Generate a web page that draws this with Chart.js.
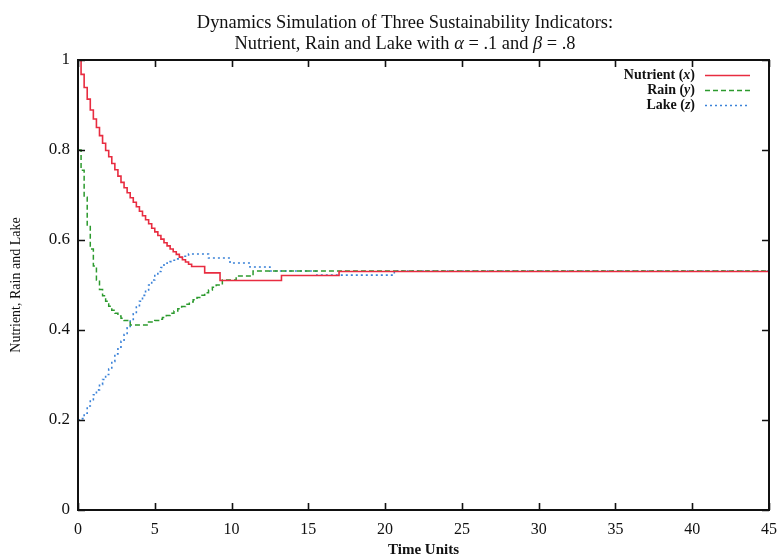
<!DOCTYPE html>
<html><head><meta charset="utf-8">
<script src="https://cdn.jsdelivr.net/npm/chart.js@4.4.0/dist/chart.umd.min.js"></script>
<style>html,body{margin:0;padding:0;background:#fff}</style>
</head><body>
<canvas id="c" width="778" height="556"></canvas>
<script>
const SERIF = '"Liberation Serif", "DejaVu Serif", serif';
const titleLine1 = 'Dynamics Simulation of Three Sustainability Indicators:';
const titleLine2 = [['Nutrient, Rain and Lake with ', false], ['\u03B1', true], [' = .1 and ', false], ['\u03B2', true], [' = .8', false]];
const xTitle = 'Time Units';
const yTitle = 'Nutrient, Rain and Lake';
const seriesLabels = ['Nutrient (x)', 'Rain (y)', 'Lake (z)'];

const nutrientT = [0,0.2,0.4,0.6,0.8,1.0,1.2,1.4,1.6,1.8,2.0,2.2,2.4,2.6,2.8,3.0,3.2,3.4,3.6,3.8,4.0,4.2,4.4,4.6,4.8,5.0,5.2,5.4,5.6,5.8,6.0,6.2,6.4,6.6,6.8,7.0,7.2,7.4,8.25,9.25,13.25,17,45];
const nutrientV = [1.000,0.968,0.939,0.913,0.889,0.869,0.850,0.832,0.815,0.799,0.785,0.770,0.756,0.742,0.728,0.716,0.705,0.694,0.684,0.674,0.664,0.654,0.645,0.636,0.626,0.618,0.610,0.602,0.594,0.587,0.580,0.574,0.568,0.562,0.556,0.551,0.546,0.541,0.527,0.510,0.521,0.530,0.530];

const rainT = [0,0.2,0.4,0.6,0.8,1.0,1.2,1.4,1.6,1.8,2.0,2.2,2.4,2.6,2.8,3.0,3.4,4.5,5,5.25,5.5,5.75,6,6.25,6.5,6.75,7,7.25,7.5,7.75,8,8.25,8.5,8.75,9,9.4,10.3,11.4,45];
const rainV = [0.800,0.755,0.695,0.630,0.580,0.542,0.511,0.490,0.476,0.464,0.453,0.444,0.437,0.431,0.426,0.421,0.411,0.418,0.421,0.424,0.428,0.432,0.437,0.442,0.447,0.452,0.457,0.462,0.467,0.472,0.477,0.483,0.489,0.495,0.500,0.511,0.520,0.531,0.531];

const lakeT = [0,0.2,0.4,0.6,0.8,1.0,1.2,1.4,1.6,1.8,2.0,2.2,2.4,2.6,2.8,3.0,3.2,3.4,3.6,3.8,4.0,4.2,4.4,4.6,4.8,5.0,5.2,5.4,5.6,5.8,6.0,6.2,6.4,6.6,6.8,7.0,7.2,8.5,9.9,11.2,12.5,15.5,20.6,45];
const lakeV = [0.200,0.203,0.215,0.231,0.245,0.256,0.267,0.279,0.290,0.301,0.313,0.330,0.347,0.362,0.375,0.390,0.405,0.420,0.436,0.451,0.464,0.477,0.489,0.500,0.511,0.521,0.530,0.539,0.545,0.549,0.552,0.555,0.558,0.561,0.564,0.567,0.569,0.560,0.549,0.540,0.531,0.522,0.531,0.531];

const xTicksStep = 5;
const yTicksStep = 0.2;

function pts(T, V) { return T.map((t, i) => ({x: t, y: V[i]})); }

const titlePlugin = {
  id: 'customTitle',
  afterDraw(chart) {
    const ctx = chart.ctx;
    ctx.save();
    ctx.fillStyle = '#111';
    ctx.textBaseline = 'alphabetic';
    const cx = 405;
    const F = '18.4px ' + SERIF;
    ctx.font = F;
    ctx.textAlign = 'center';
    ctx.fillText(titleLine1, cx, 28);
    ctx.textAlign = 'left';
    let total = 0;
    const widths = titleLine2.map(([s, it]) => { ctx.font = (it ? 'italic ' : '') + F; const w = ctx.measureText(s).width; total += w; return w; });
    let x = cx - total / 2;
    titleLine2.forEach(([s, it], i) => { ctx.font = (it ? 'italic ' : '') + F; ctx.fillText(s, x, 49); x += widths[i]; });
    ctx.restore();
  }
};

const framePlugin = {
  id: 'frame',
  afterDraw(chart) {
    const {ctx, chartArea: a, scales} = chart;
    ctx.save();
    ctx.strokeStyle = '#111';
    ctx.lineWidth = 2;
    ctx.strokeRect(a.left, a.top, a.right - a.left, a.bottom - a.top);
    ctx.lineWidth = 1.6;
    const L = 7;
    scales.x.ticks.forEach(t => {
      const px = Math.round(scales.x.getPixelForValue(t.value)) + 0.5;
      ctx.beginPath();
      ctx.moveTo(px, a.bottom); ctx.lineTo(px, a.bottom - L);
      ctx.moveTo(px, a.top); ctx.lineTo(px, a.top + L);
      ctx.stroke();
    });
    scales.y.ticks.forEach(t => {
      const py = Math.round(scales.y.getPixelForValue(t.value)) + 0.5;
      ctx.beginPath();
      ctx.moveTo(a.left, py); ctx.lineTo(a.left + L, py);
      ctx.moveTo(a.right, py); ctx.lineTo(a.right - L, py);
      ctx.stroke();
    });
    ctx.restore();
  }
};

const legendPlugin = {
  id: 'customLegend',
  afterDraw(chart) {
    const ctx = chart.ctx;
    ctx.save();
    ctx.textBaseline = 'middle';
    ctx.fillStyle = '#111';
    const textRight = 695, lx1 = 705, lx2 = 750, y0 = 75, dy = 15;
    chart.data.datasets.forEach((ds, i) => {
      const y = y0 + i * dy;
      const m = ds.label.match(/^(.*\()(.)(\))$/);
      const parts = m ? [[m[1], false], [m[2], true], [m[3], false]] : [[ds.label, false]];
      let total = 0;
      const ws = parts.map(([s, it]) => { ctx.font = 'bold ' + (it ? 'italic ' : '') + '14px ' + SERIF; const w = ctx.measureText(s).width; total += w; return w; });
      let x = textRight - total;
      ctx.textAlign = 'left';
      parts.forEach(([s, it], k) => { ctx.font = 'bold ' + (it ? 'italic ' : '') + '14px ' + SERIF; ctx.fillText(s, x, y); x += ws[k]; });
      ctx.beginPath();
      ctx.strokeStyle = ds.borderColor;
      ctx.lineWidth = ds.borderWidth;
      ctx.setLineDash(ds.borderDash || []);
      ctx.moveTo(lx1, y + 0.5); ctx.lineTo(lx2, y + 0.5);
      ctx.stroke();
    });
    ctx.restore();
  }
};

new Chart(document.getElementById('c'), {
  type: 'line',
  data: {
    datasets: [
      {label: seriesLabels[0], data: pts(nutrientT, nutrientV), borderColor: '#e82c40', borderWidth: 1.6, stepped: true, pointRadius: 0, fill: false},
      {label: seriesLabels[1], data: pts(rainT, rainV), borderColor: '#2c9a2e', borderWidth: 1.5, borderDash: [5, 3], stepped: true, pointRadius: 0, fill: false},
      {label: seriesLabels[2], data: pts(lakeT, lakeV), borderColor: '#3b82d8', borderWidth: 1.6, borderDash: [2, 3], stepped: true, pointRadius: 0, fill: false}
    ]
  },
  options: {
    responsive: false,
    animation: false,
    devicePixelRatio: 1,
    layout: {padding: {left: 0, right: 0, top: 60, bottom: 0}},
    plugins: {legend: {display: false}, title: {display: false}, tooltip: {enabled: false}},
    scales: {
      x: {
        type: 'linear', min: 0, max: 45,
        ticks: {stepSize: xTicksStep, font: {family: SERIF, size: 16}, color: '#111', padding: 10, maxRotation: 0, autoSkip: false},
        grid: {display: false, drawTicks: false},
        border: {display: false},
        title: {display: true, text: xTitle, font: {family: SERIF, size: 15, weight: 'bold', lineHeight: 0.8}, color: '#111', padding: 0},
        afterFit(s) { s.height = 46; s.paddingRight = 9; s.paddingLeft = 0; }
      },
      y: {
        type: 'linear', min: 0, max: 1,
        ticks: {stepSize: yTicksStep, font: {family: SERIF, size: 17}, color: '#111', padding: 8,
          callback: v => String(Number(v.toFixed(1)))},
        grid: {display: false, drawTicks: false},
        border: {display: false},
        title: {display: true, text: yTitle, font: {family: SERIF, size: 14, lineHeight: 1.2}, color: '#111', padding: {top: 8, bottom: 0}},
        afterFit(s) { s.width = 78; s.paddingTop = 0; s.paddingBottom = 0; }
      }
    }
  },
  plugins: [titlePlugin, framePlugin, legendPlugin]
});
</script>
</body></html>
